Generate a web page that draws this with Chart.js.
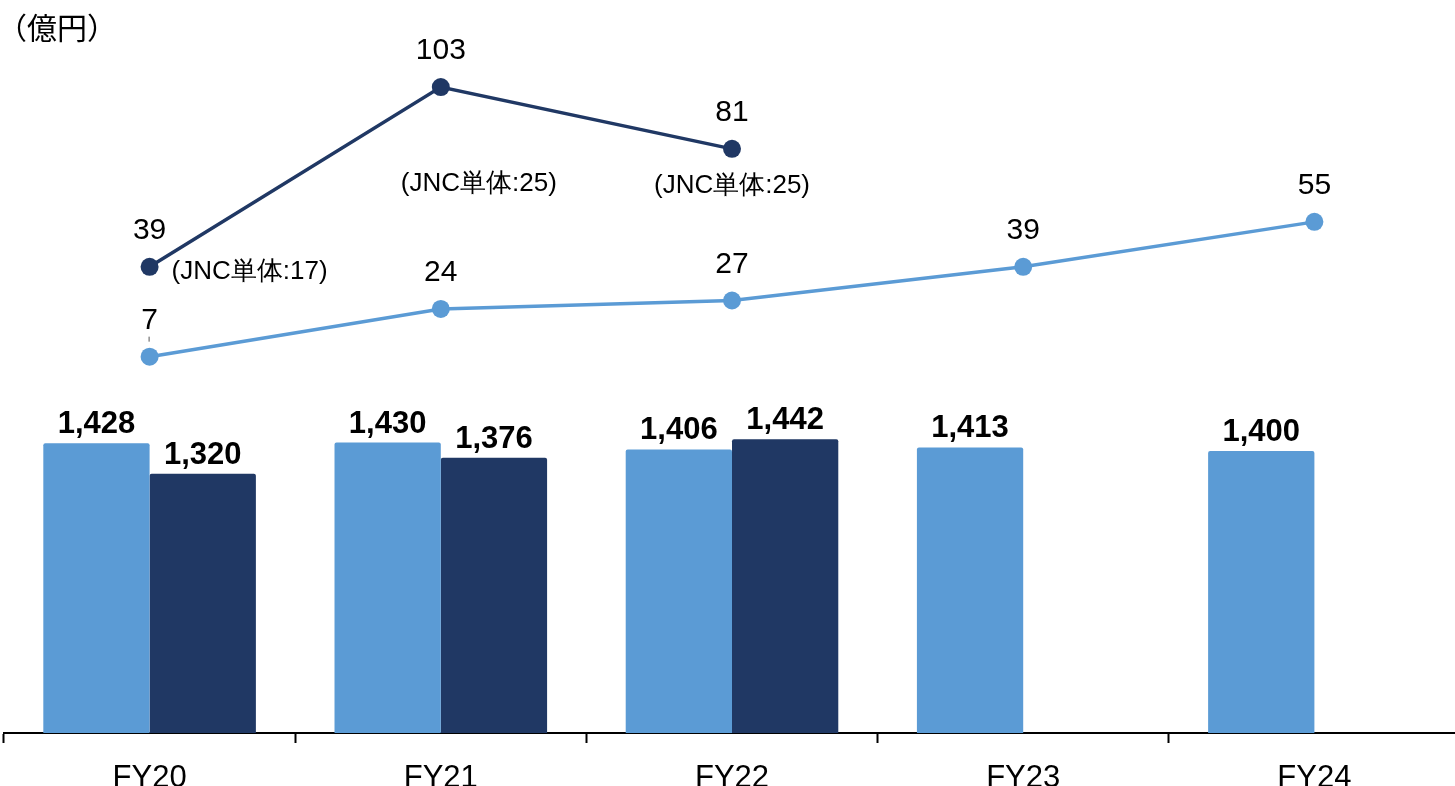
<!DOCTYPE html>
<html>
<head>
<meta charset="utf-8">
<script src="https://cdn.jsdelivr.net/npm/chart.js@4.4.1/dist/chart.umd.min.js"></script>
<style>
  html, body { margin: 0; padding: 0; overflow: hidden; background: #fff; }
  #wrap { position: relative; width: 1460px; height: 786px; }
  #unit { position: absolute; left: -3px; top: 11px; font: 30px/1 "Noto Sans CJK JP", sans-serif; color: #000; }
</style>
</head>
<body>
<div id="wrap">
  <canvas id="c" width="1460" height="786"></canvas>
  <div id="unit">（億円）</div>
</div>
<script>
const categories = ['FY20', 'FY21', 'FY22', 'FY23', 'FY24'];
const barLight = [1428, 1430, 1406, 1413, 1400];
const barDark = [1320, 1376, 1442, null, null];
const lineDark = [39, 103, 81, null, null];
const lineLight = [7, 24, 27, 39, 55];
const notes = ['(JNC単体:17)', '(JNC単体:25)', '(JNC単体:25)', null, null];

const LIGHT = '#5B9BD5';
const DARK = '#203864';
const FONT = '"Liberation Sans", Arial, sans-serif';

// where the JNC notes sit relative to their point
const noteOffsets = [
  { dx: 22, dy: 5, align: 'left' },
  { dx: 38, dy: 97, align: 'center' },
  { dx: 0, dy: 37, align: 'center' }
];

const labelPlugin = {
  id: 'valueLabels',
  afterDatasetsDraw(chart) {
    const ctx = chart.ctx;
    ctx.save();
    ctx.fillStyle = '#000';
    chart.data.datasets.forEach((ds, i) => {
      const meta = chart.getDatasetMeta(i);
      meta.data.forEach((el, j) => {
        const v = ds.data[j];
        if (v == null) return;
        ctx.textAlign = 'center';
        ctx.textBaseline = 'alphabetic';
        if (ds.type === 'bar') {
          ctx.font = 'bold 31px ' + FONT;
          ctx.fillText(v.toLocaleString('en-US'), el.x, el.y - 10);
        } else {
          ctx.font = '30px ' + FONT;
          ctx.fillText(String(v), el.x, el.y - 28);
        }
        if (ds.notes && ds.notes[j]) {
          const o = noteOffsets[j];
          ctx.font = '26px ' + FONT;
          ctx.textAlign = o.align;
          ctx.textBaseline = 'middle';
          ctx.fillText(ds.notes[j], el.x + o.dx, el.y + o.dy);
        }
      });
    });
    // small leader mark under the first light-line label
    const p = chart.getDatasetMeta(3).data[0];
    ctx.strokeStyle = '#555';
    ctx.lineWidth = 1;
    ctx.beginPath();
    ctx.moveTo(p.x - 0.5, p.y - 20);
    ctx.lineTo(p.x - 0.5, p.y - 15);
    ctx.stroke();
    ctx.restore();
  }
};

new Chart(document.getElementById('c'), {
  data: {
    labels: categories,
    datasets: [
      {
        type: 'line', data: lineDark, notes: notes, yAxisID: 'yLine', order: 0,
        borderColor: DARK, backgroundColor: DARK, borderWidth: 3.5,
        pointRadius: 9, pointBackgroundColor: DARK, pointBorderWidth: 0, tension: 0
      },
      {
        type: 'bar', data: barLight, yAxisID: 'yBar', order: 2,
        backgroundColor: LIGHT, borderRadius: 2,
        barPercentage: 1, categoryPercentage: 0.73
      },
      {
        type: 'bar', data: barDark, yAxisID: 'yBar', order: 2,
        backgroundColor: DARK, borderRadius: 2,
        barPercentage: 1, categoryPercentage: 0.73
      },
      {
        type: 'line', data: lineLight, yAxisID: 'yLine', order: 0,
        borderColor: LIGHT, backgroundColor: LIGHT, borderWidth: 3.5,
        pointRadius: 9, pointBackgroundColor: LIGHT, pointBorderWidth: 0, tension: 0
      }
    ]
  },
  options: {
    responsive: false,
    animation: false,
    devicePixelRatio: 1,
    layout: { autoPadding: false, padding: { left: 4, right: 0, top: 0, bottom: 0 } },
    plugins: { legend: { display: false }, tooltip: { enabled: false } },
    events: [],
    scales: {
      x: {
        offset: true,
        z: 1,
        grid: { offset: true, drawOnChartArea: false, drawTicks: true, tickLength: 10, tickWidth: 2, tickColor: '#000' },
        border: { color: '#000', width: 2 },
        ticks: { color: '#000', font: { family: FONT, size: 31 }, padding: 17 },
        afterFit: s => { s.height = 53; }
      },
      yBar: { display: false, min: 400, max: 3000 },
      yLine: { display: false, min: -127, max: 134 }
    }
  },
  plugins: [labelPlugin]
});
</script>
</body>
</html>
